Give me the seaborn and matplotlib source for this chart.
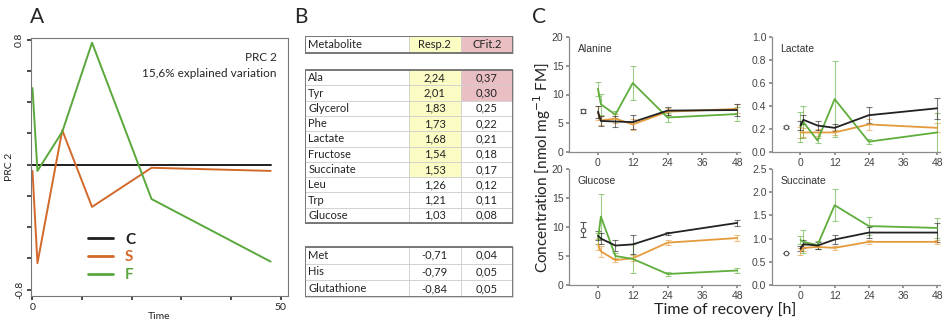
import matplotlib.pyplot as plt
import numpy as np
import pandas as pd
import seaborn as sns
from matplotlib.lines import Line2D
from matplotlib.patches import Rectangle

# ---- panel A: principal response curve ----
prc_groups = ['C', 'S', 'F']
prc_times = [0, 1, 6, 12, 24, 48]
prc_C = [0, 0, 0, 0, 0, 0]
prc_S = [-0.04, -0.63, 0.22, -0.27, -0.02, -0.04]
prc_F = [0.49, -0.04, 0.21, 0.78, -0.22, -0.62]

# ---- panel B: table ----
table_header = ['Metabolite', 'Resp.2', 'CFit.2']
top_names = ['Ala', 'Tyr', 'Glycerol', 'Phe', 'Lactate', 'Fructose',
             'Succinate', 'Leu', 'Trp', 'Glucose']
top_resp = [2.24, 2.01, 1.83, 1.73, 1.68, 1.54, 1.53, 1.26, 1.21, 1.03]
top_cfit = [0.37, 0.30, 0.25, 0.22, 0.21, 0.18, 0.17, 0.12, 0.11, 0.08]
bottom_names = ['Met', 'His', 'Glutathione']
bottom_resp = [-0.71, -0.79, -0.84]
bottom_cfit = [0.04, 0.05, 0.05]

# ---- panel C: metabolite time courses ----
rec_times = [0, 1, 6, 12, 24, 48]
pre_time = -5

ala_pre, ala_pre_err = 7.1, 0.4
ala_C = [7.0, 5.4, 5.3, 5.2, 7.2, 7.3]
ala_C_err = [1.0, 0.8, 1.0, 1.2, 0.7, 1.0]
ala_S = [6.8, 5.5, 5.8, 4.8, 7.0, 7.5]
ala_S_err = [1.2, 0.8, 0.8, 1.0, 0.6, 0.8]
ala_F = [11.0, 8.3, 6.5, 12.0, 6.0, 6.6]
ala_F_err = [1.2, 1.8, 0.6, 3.0, 0.8, 1.2]

lac_pre, lac_pre_err = 0.22, 0.01
lac_C = [0.23, 0.28, 0.23, 0.21, 0.32, 0.38]
lac_C_err = [0.04, 0.04, 0.04, 0.03, 0.07, 0.09]
lac_S = [0.17, 0.17, 0.17, 0.17, 0.24, 0.21]
lac_S_err = [0.05, 0.04, 0.03, 0.02, 0.05, 0.04]
lac_F = [0.22, 0.26, 0.10, 0.46, 0.09, 0.17]
lac_F_err = [0.13, 0.14, 0.02, 0.33, 0.02, 0.17]

glc_pre, glc_pre_err = 9.5, 1.3
glc_C = [8.5, 8.0, 6.8, 7.0, 8.9, 10.7]
glc_C_err = [0.8, 1.0, 1.0, 1.7, 0.3, 0.5]
glc_S = [7.0, 5.8, 4.3, 4.6, 7.3, 8.1]
glc_S_err = [1.0, 1.0, 0.4, 0.5, 0.4, 0.5]
glc_F = [8.0, 11.8, 5.0, 4.5, 1.9, 2.5]
glc_F_err = [1.0, 3.9, 0.5, 2.5, 0.3, 0.4]

suc_pre, suc_pre_err = 0.70, 0.0
suc_C = [0.78, 0.88, 0.85, 0.98, 1.13, 1.13]
suc_C_err = [0.05, 0.08, 0.07, 0.10, 0.12, 0.20]
suc_S = [0.72, 0.80, 0.82, 0.80, 0.93, 0.93]
suc_S_err = [0.07, 0.06, 0.05, 0.04, 0.05, 0.05]
suc_F = [0.97, 0.93, 0.86, 1.72, 1.27, 1.23]
suc_F_err = [0.08, 0.25, 0.08, 0.35, 0.20, 0.22]

sns.set_theme(style='white')
plt.rcParams['font.family'] = ['Lato', 'DejaVu Sans']

fig = plt.figure(figsize=(9.44, 3.2), dpi=100)
W, H = 944, 320


def px_axes(x0, y0, x1, y1):
    return fig.add_axes([x0 / W, 1 - y1 / H, (x1 - x0) / W, (y1 - y0) / H])


# ================= A =================
a_cols = {'C': '#1e1e1e', 'S': '#d2692a', 'F': '#5aa83c'}
prc_df = pd.DataFrame({
    'time': prc_times * 3,
    'value': prc_C + prc_S + prc_F,
    'group': sum([[g] * len(prc_times) for g in prc_groups], []),
})
axA = px_axes(31, 38, 288, 296)
sns.lineplot(data=prc_df, x='time', y='value', hue='group', palette=a_cols,
             ax=axA, lw=1.4, legend=False)
axA.set_xlim(-0.3, 51.5)
axA.set_ylim(-0.84, 0.81)
axA.set_xticks(np.arange(0, 51, 10))
axA.set_xticklabels(['0', '', '', '', '', '50'])
axA.set_yticks(np.round(np.arange(-0.8, 0.81, 0.2), 1))
axA.set_yticklabels(['-0.8'] + [''] * 7 + ['0.8'], rotation=90, va='center')
axA.tick_params(axis='both', labelsize=7.5, length=3, color='#333333',
                left=True, bottom=True, pad=2, labelcolor='#222222')
axA.set_xlabel('Time', fontsize=7.5, labelpad=0, color='#222222')
axA.set_ylabel('PRC 2', fontsize=7.5, labelpad=1, color='#222222')
for s in axA.spines.values():
    s.set_color('#777777')
    s.set_linewidth(0.8)
axA.text(0.955, 0.925, 'PRC 2', transform=axA.transAxes, ha='right',
         va='center', fontsize=8.5)
axA.text(0.955, 0.862, '15,6% explained variation', transform=axA.transAxes,
         ha='right', va='center', fontsize=8.5)
handles = [Line2D([0], [0], color=a_cols[g], lw=2) for g in prc_groups]
leg = axA.legend(handles, prc_groups, loc='lower left',
                 bbox_to_anchor=(0.17, 0.0), frameon=False, handlelength=1.6,
                 labelspacing=0.25, handletextpad=0.8,
                 prop={'weight': 'bold', 'size': 11})
for t, g in zip(leg.get_texts(), prc_groups):
    t.set_color(a_cols[g])
fig.text(30 / W, 1 - 17 / H, 'A', fontsize=15, va='center', ha='left')

# ================= B =================
axB = px_axes(305, 36, 513, 297)
axB.set_xlim(0, 1)
axB.set_ylim(0, 1)
axB.axis('off')
col_w = [0.4976, 0.2512, 0.2512]
yellow, pink = '#fbfbc4', '#e9bfc3'


def fmt(v):
    return f'{v:.2f}'.replace('.', ',')


def draw_table(rows, bbox, resp_hi, cfit_hi):
    tab = axB.table(cellText=rows, bbox=bbox, cellLoc='center',
                    colWidths=col_w)
    tab.auto_set_font_size(False)
    tab.set_fontsize(8)
    for (r, c), cell in tab.get_celld().items():
        cell.set_edgecolor('#cfcfcf')
        cell.set_linewidth(0.6)
        cell.get_text().set_color('#222222')
        if c == 0:
            cell.get_text().set_horizontalalignment('left')
            cell.PAD = 0.03
        if c == 1 and r < resp_hi:
            cell.set_facecolor(yellow)
        if c == 2 and r < cfit_hi:
            cell.set_facecolor(pink)
    axB.add_patch(Rectangle((bbox[0], bbox[1]), bbox[2], bbox[3],
                            transform=axB.transAxes, fill=False,
                            edgecolor='#6e6e6e', lw=1.3, zorder=5))


draw_table([table_header], [0, 0.935, 1, 0.065], 1, 1)
draw_table([[n, fmt(r), fmt(c)] for n, r, c in zip(top_names, top_resp, top_cfit)],
           [0, 0.2835, 1, 0.586], 7, 2)
draw_table([[n, fmt(r), fmt(c)] for n, r, c in
            zip(bottom_names, bottom_resp, bottom_cfit)],
           [0, 0.0, 1, 0.1916], 0, 0)
fig.text(294 / W, 1 - 17 / H, 'B', fontsize=15, va='center', ha='left')

# ================= C =================
c_cols = {'C': '#222222', 'S': '#e49b3b', 'F': '#5fae3c'}
panels = [
    ('Alanine', (569, 37, 740, 152), (0, 20), np.arange(0, 21, 5),
     ala_pre, ala_pre_err, [(ala_C, ala_C_err), (ala_S, ala_S_err), (ala_F, ala_F_err)], '{:.0f}'),
    ('Lactate', (772, 37, 940, 152), (0, 1.0), np.arange(0, 1.01, 0.2),
     lac_pre, lac_pre_err, [(lac_C, lac_C_err), (lac_S, lac_S_err), (lac_F, lac_F_err)], '{:.1f}'),
    ('Glucose', (569, 169, 740, 285), (0, 20), np.arange(0, 21, 5),
     glc_pre, glc_pre_err, [(glc_C, glc_C_err), (glc_S, glc_S_err), (glc_F, glc_F_err)], '{:.0f}'),
    ('Succinate', (772, 169, 940, 285), (0, 2.5), np.arange(0, 2.51, 0.5),
     suc_pre, suc_pre_err, [(suc_C, suc_C_err), (suc_S, suc_S_err), (suc_F, suc_F_err)], '{:.1f}'),
]
for name, box, ylim, yt, pre, pre_err, series, yfmt in panels:
    ax = px_axes(*box)
    for g, (vals, errs) in zip(['S', 'F', 'C'], [series[1], series[2], series[0]]):
        ax.errorbar(rec_times, vals, yerr=errs, fmt='none',
                    ecolor=c_cols[g], alpha=0.6, elinewidth=0.8, capsize=2,
                    capthick=0.8, zorder=2)
        sns.lineplot(x=rec_times, y=vals, ax=ax, color=c_cols[g], lw=1.3,
                     zorder=3)
    ax.errorbar([pre_time], [pre], yerr=[pre_err], fmt='o', ms=3.2,
                mfc='white', mec='#555555', ecolor='#555555', elinewidth=0.8,
                capsize=2, mew=0.8)
    ax.set_xlim(-10, 49)
    ax.set_ylim(*ylim)
    ax.set_xticks([0, 12, 24, 36, 48])
    ax.set_yticks(yt)
    ax.set_yticklabels([yfmt.format(v) for v in yt])
    sns.despine(ax=ax)
    for s in ('left', 'bottom'):
        ax.spines[s].set_color('#8a8a8a')
        ax.spines[s].set_linewidth(0.9)
    ax.tick_params(axis='both', labelsize=7.5, length=2.5, color='#8a8a8a',
                   left=True, bottom=True, pad=1.5, labelcolor='#444444')
    for lab in ax.get_xticklabels() + ax.get_yticklabels():
        lab.set_family(['Liberation Sans', 'DejaVu Sans'])
    ax.text(0.05, 0.9, name, transform=ax.transAxes, fontsize=7.5,
            color='#333333', family=['Liberation Sans', 'DejaVu Sans'],
            va='center')
fig.text(532 / W, 1 - 17 / H, 'C', fontsize=15, va='center', ha='left')
fig.text(542 / W, 1 - 168 / H, 'Concentration [nmol mg$^{-1}$ FM]',
         rotation=90, fontsize=11, ha='center', va='center', color='#222222')
fig.text(725 / W, 1 - 310 / H, 'Time of recovery [h]', fontsize=11.5,
         ha='center', va='center', color='#222222')

fig.savefig('out.png', dpi=100)
